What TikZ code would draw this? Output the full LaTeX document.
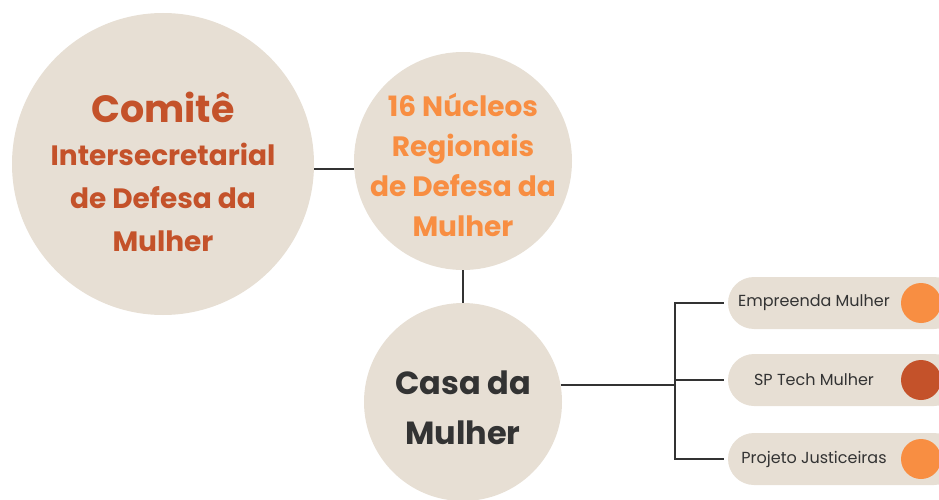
\documentclass[tikz,border=0pt]{standalone}
\usepackage{fontspec}
\setmainfont{Poppins}
\usetikzlibrary{positioning,calc}
\definecolor{sand}{RGB}{231,223,212}
\definecolor{rust}{RGB}{196,82,42}
\definecolor{tangerine}{RGB}{248,142,66}
\definecolor{ink}{RGB}{51,51,51}
\tikzstyle{bigvertex}=[circle,fill=sand,minimum size=302pt,inner sep=0pt]
\tikzstyle{midvertex}=[circle,fill=sand,minimum size=218pt,inner sep=0pt]
\tikzstyle{casavertex}=[circle,fill=sand,minimum size=198pt,inner sep=0pt]
\tikzstyle{pill}=[rectangle,rounded corners=26pt,fill=sand,minimum width=232pt,minimum height=52pt,inner sep=0pt]
\tikzstyle{dot}=[circle,minimum size=40pt,inner sep=0pt]
\tikzstyle{headtext}=[align=center,font=\bfseries\fontsize{28}{43}\selectfont]
\tikzstyle{pilltext}=[text=ink,font=\fontsize{16}{19}\selectfont]
\tikzstyle{link}=[draw=ink,line width=2.2pt]

\begin{document}
\begin{tikzpicture}[x=1pt,y=-1pt]
  \useasboundingbox (0,0) rectangle (939,500);

  % the three circles
  \node[bigvertex] (comite) at (163,164) {};
  \node[midvertex] (nucleos) at (463,161) {};
  \node[casavertex] (casa) at (463,402) {};

  \node[headtext,text=rust] (comitetext) at ([yshift=-8pt]comite.center)
       {{\fontsize{38}{48}\selectfont Comitê}\\Intersecretarial\\de Defesa da\\Mulher};
  \node[headtext,text=tangerine,font=\bfseries\fontsize{28}{40}\selectfont] (nucleostext) at ([yshift=-4pt]nucleos.center)
       {16 Núcleos\\Regionais\\de Defesa da\\Mulher};
  \node[headtext,text=ink,font=\bfseries\fontsize{32}{50}\selectfont] (casatext) at ([yshift=-6pt]casa.center)
       {Casa da\\Mulher};

  % programmes of the Casa
  \foreach \y/\name/\col/\label in {303/p1/tangerine/Empreenda Mulher, 380/p2/rust/SP Tech Mulher, 459/p3/tangerine/Projeto Justiceiras}
  {
    \node[pill] (\name) at (844,\y) {};
    \node[pilltext] (\name text) at (814,\y) {\label};
    \node[dot,fill=\col] (\name dot) at (921,\y) {};
  }

  \draw[link] (comite.-2) -- (comite.-2 -| nucleos.west);
  \draw[link] (nucleos.south) -- (casa.north);

  \coordinate (fork) at ($(casa.10) + (114,0)$);
  \draw[link] (casa.10) -- (fork);
  \foreach \dest in {p1,p2,p3}
    \draw[link] (fork) |- ([xshift=-4pt]\dest.west);

\end{tikzpicture}
\end{document}
